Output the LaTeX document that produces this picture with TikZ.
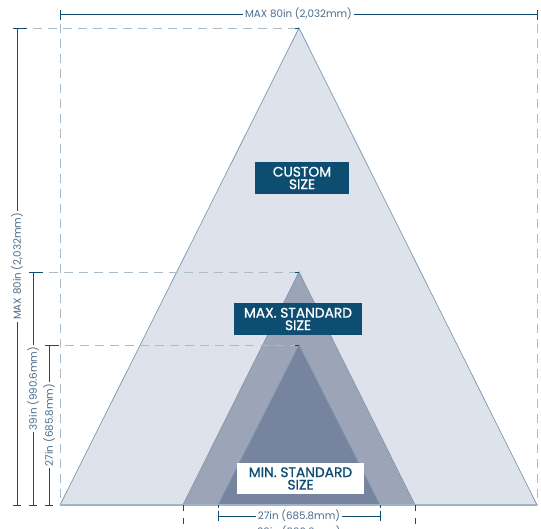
\documentclass[tikz,border=0pt]{standalone}
\usepackage{fontspec}
\setmainfont{Poppins}
\newfontfamily\medfont[RawFeature={embolden=1.0}]{Poppins}
\definecolor{navy}{HTML}{0E4D72}
\definecolor{dimtxt}{HTML}{4A6D8D}
\definecolor{lightdash}{HTML}{A9BCCB}
\definecolor{bigfill}{HTML}{DDE2EB}
\definecolor{midfill}{HTML}{9CA4B8}
\definecolor{smallfill}{HTML}{76849F}
\definecolor{edge}{HTML}{7D98B0}
\definecolor{baseln}{HTML}{A3B3C3}
\tikzset{
  dimline/.style={draw=navy, line width=0.9pt},
  dimtext/.style={fill=white, text=dimtxt, font=\fontsize{10.3}{11}\selectfont, inner sep=2pt},
  guide/.style={draw=lightdash, line width=0.9pt, dash pattern=on 9pt off 6pt},
  darkguide/.style={draw=navy, line width=0.9pt, dash pattern=on 6pt off 7pt},
  tri/.style={draw=edge, line width=0.7pt},
  darkbox/.style={fill=navy, text=white, font=\medfont\fontsize{13.8}{12.5}\selectfont, align=center, inner sep=0pt},
  whitebox/.style={fill=white, text=navy, font=\medfont\fontsize{13.8}{12.5}\selectfont, align=center, inner sep=0pt}
}
\begin{document}
\begin{tikzpicture}[x=1pt,y=-1pt]
\useasboundingbox (0,0) rectangle (541,529);
% triangle corners
\coordinate (LA) at (299,28);  \coordinate (LL) at (60,505);  \coordinate (LR) at (537,505);
\coordinate (MA) at (299,272); \coordinate (ML) at (183,505); \coordinate (MR) at (415,505);
\coordinate (SA) at (299,345); \coordinate (SL) at (218,505); \coordinate (SR) at (380,505);
% triangles
\path[tri, fill=bigfill] (LL) -- (LA) -- (LR) -- cycle;
\path[tri, fill=midfill] (ML) -- (MA) -- (MR) -- cycle;
\path[tri, fill=smallfill] (SL) -- (SA) -- (SR) -- cycle;
\draw[draw=baseln, line width=1.2pt] (LL) -- (LR);
% vertical guides
\coordinate (GLt) at (60,14); \coordinate (GRt) at (537,14);
\draw[guide] (60,24) -- (LL);
\draw[guide] (537,24) -- (LR);
\draw[navy, line width=0.9pt] (GLt) -- (60,20);
\draw[navy, line width=0.9pt] (GRt) -- (537,20);
% horizontal guides
\draw[guide] (33,28) -- (LA);
\draw[guide] (49,272) -- (MA);
\draw[guide] (65,345) -- (SA);
\draw[navy, line width=0.9pt] (21,28) -- (27,28);
\draw[navy, line width=0.9pt] (37,272) -- (43,272);
\draw[navy, line width=0.9pt] (53,345) -- (59,345);
\draw[navy, line width=0.9pt] (295,28) -- (LA);
\draw[navy, line width=0.9pt] (295,272) -- (MA);
\draw[navy, line width=0.9pt] (295,345) -- (SA);
% top dimension
\draw[dimline] (GLt) -- (GRt) node[midway, dimtext, inner ysep=1pt] {MAX 80in (2,032mm)};
\draw[dimline] (60,10) -- (60,18);
\draw[dimline] (537,10) -- (537,18);
% left dimensions
\coordinate (V1t) at (17,28);  \coordinate (V1b) at (17,505);
\coordinate (V2t) at (33,272); \coordinate (V2b) at (33,505);
\coordinate (V3t) at (49,345); \coordinate (V3b) at (49,505);
\draw[dimline] (V1t) -- (V1b) node[midway, dimtext, rotate=90] {MAX 80in (2,032mm)};
\draw[dimline] (V2t) -- (V2b) node[midway, dimtext, rotate=90] {39in (990.6mm)};
\draw[dimline] (V3t) -- (V3b) node[midway, dimtext, rotate=90] {27in (685.8mm)};
\foreach \x/\yt in {17/28, 33/272, 49/345} {
  \draw[dimline] (\x-4,\yt) -- (\x+4,\yt);
  \draw[dimline] (\x-4,505) -- (\x+4,505);
}
% bottom guides
\draw[darkguide] (ML) -- (183,535);
\draw[darkguide] (MR) -- (415,535);
\draw[navy, line width=0.9pt] (SL) -- (218,508);
\draw[navy, line width=0.9pt] (SR) -- (380,508);
% bottom dimensions
\coordinate (B1l) at (218,516); \coordinate (B1r) at (380,516);
\coordinate (B2l) at (183,531.5); \coordinate (B2r) at (415,531.5);
\draw[dimline] (B1l) -- (B1r) node[midway, dimtext, inner ysep=1pt] {27in (685.8mm)};
\draw[dimline] (218,511) -- (218,521);
\draw[dimline] (380,511) -- (380,521);
\draw[dimline] (B2l) -- (B2r) node[midway, dimtext, inner ysep=1pt] {39in (990.6mm)};
% labels
\node[darkbox, minimum width=94pt, minimum height=32pt] (custom) at (302,178) {CUSTOM\\SIZE};
\node[darkbox, minimum width=128pt, minimum height=32pt] (maxstd) at (298,319) {MAX. STANDARD\\SIZE};
\node[whitebox, minimum width=127pt, minimum height=31pt] (minstd) at (300.5,478.5) {MIN. STANDARD\\SIZE};
\end{tikzpicture}
\end{document}
